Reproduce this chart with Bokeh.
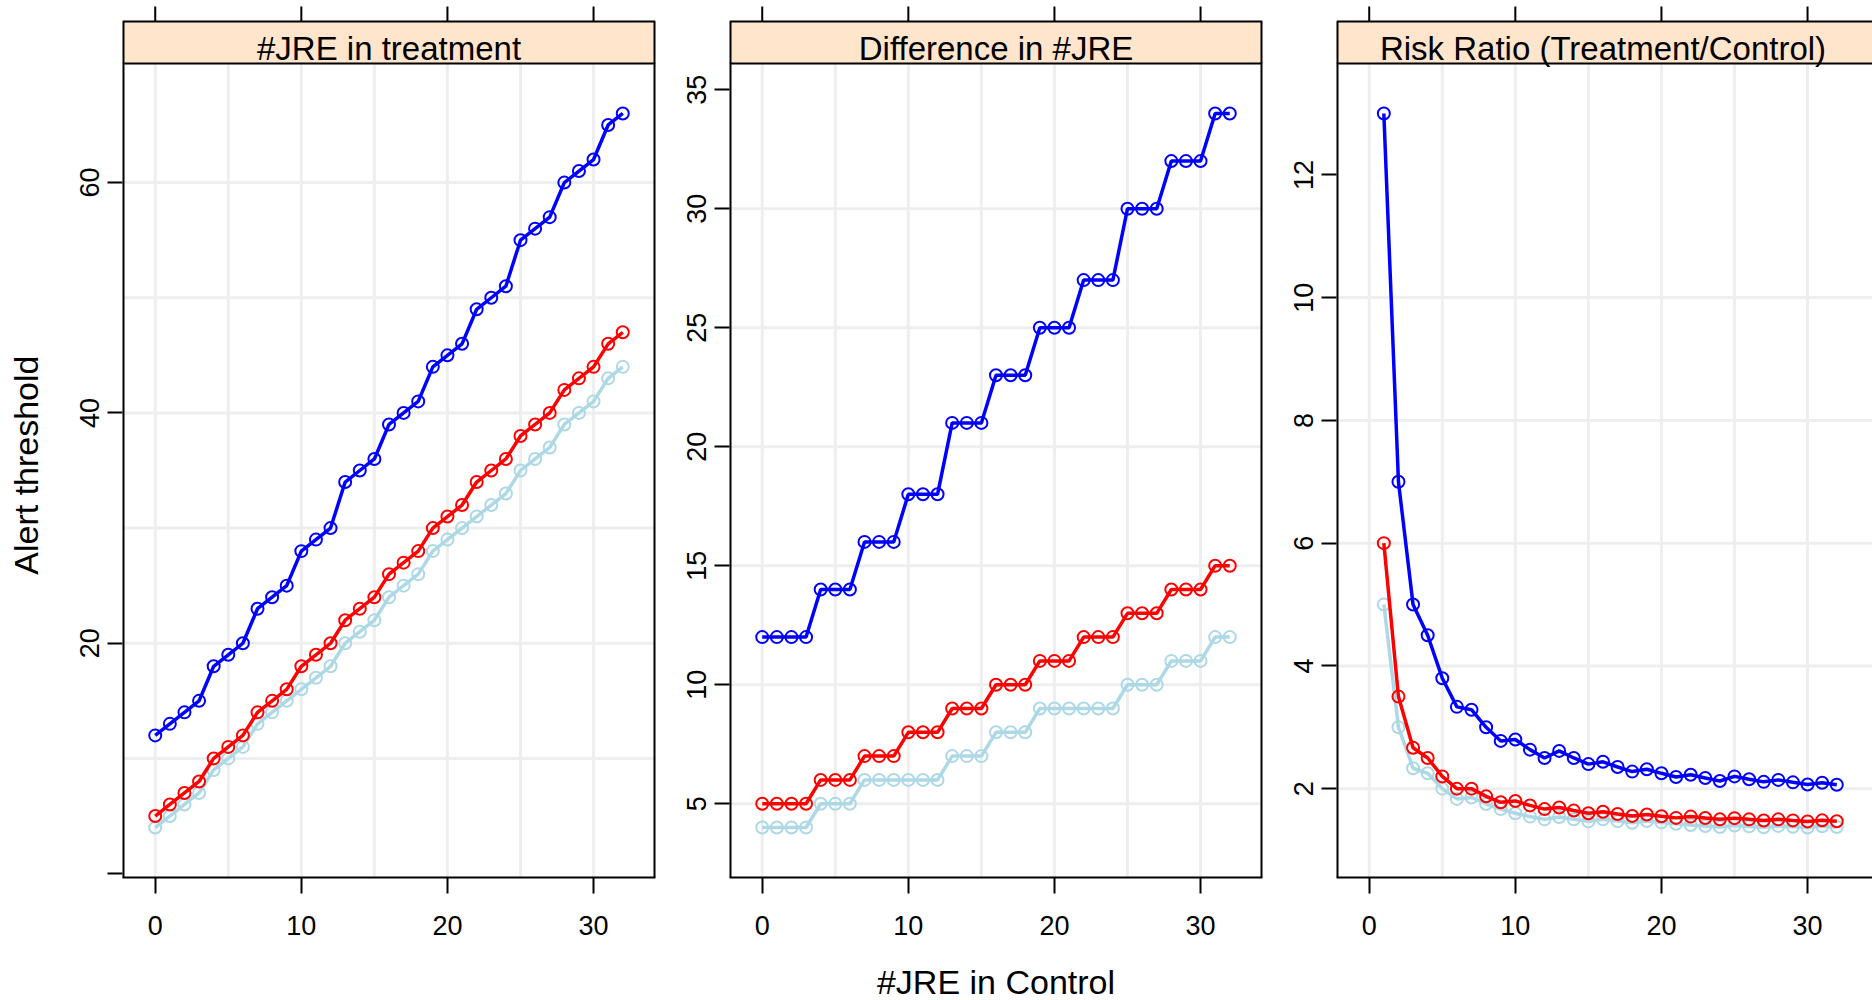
import math
from bokeh.plotting import figure
from bokeh.layouts import row, column
from bokeh.models import Range1d, FixedTicker, LinearAxis
from bokeh.embed import file_html
from bokeh.resources import INLINE
from bokeh.core.properties import value

# ---- data -------------------------------------------------------------
# number of JRE observed in the control arm
control_jre = [0, 1, 2, 3, 4, 5, 6, 7, 8, 9, 10, 11, 12, 13, 14, 15, 16,
               17, 18, 19, 20, 21, 22, 23, 24, 25, 26, 27, 28, 29, 30, 31, 32]

# alert threshold expressed as #JRE in the treatment arm
treat_blue = [12, 13, 14, 15, 18, 19, 20, 23, 24, 25, 28, 29, 30, 34, 35, 36, 39,
              40, 41, 44, 45, 46, 49, 50, 51, 55, 56, 57, 60, 61, 62, 65, 66]
treat_red = [5, 6, 7, 8, 10, 11, 12, 14, 15, 16, 18, 19, 20, 22, 23, 24, 26,
             27, 28, 30, 31, 32, 34, 35, 36, 38, 39, 40, 42, 43, 44, 46, 47]
treat_lightblue = [4, 5, 6, 7, 9, 10, 11, 13, 14, 15, 16, 17, 18, 20, 21, 22, 24,
                   25, 26, 28, 29, 30, 31, 32, 33, 35, 36, 37, 39, 40, 41, 43, 44]

# alert threshold expressed as difference in #JRE (treatment - control)
diff_blue = [12, 12, 12, 12, 14, 14, 14, 16, 16, 16, 18, 18, 18, 21, 21, 21, 23,
             23, 23, 25, 25, 25, 27, 27, 27, 30, 30, 30, 32, 32, 32, 34, 34]
diff_red = [5, 5, 5, 5, 6, 6, 6, 7, 7, 7, 8, 8, 8, 9, 9, 9, 10,
            10, 10, 11, 11, 11, 12, 12, 12, 13, 13, 13, 14, 14, 14, 15, 15]
diff_lightblue = [4, 4, 4, 4, 5, 5, 5, 6, 6, 6, 6, 6, 6, 7, 7, 7, 8,
                  8, 8, 9, 9, 9, 9, 9, 9, 10, 10, 10, 11, 11, 11, 12, 12]

# alert threshold expressed as risk ratio (defined from one control JRE on)
ratio_x = [1, 2, 3, 4, 5, 6, 7, 8, 9, 10, 11, 12, 13, 14, 15, 16,
           17, 18, 19, 20, 21, 22, 23, 24, 25, 26, 27, 28, 29, 30, 31, 32]
ratio_blue = [13.0, 7.0, 5.0, 4.5, 3.8, 3.333, 3.286, 3.0, 2.778, 2.8, 2.636, 2.5,
              2.615, 2.5, 2.4, 2.438, 2.353, 2.278, 2.316, 2.25, 2.19, 2.227,
              2.174, 2.125, 2.2, 2.154, 2.111, 2.143, 2.103, 2.067, 2.097, 2.063]
ratio_red = [6.0, 3.5, 2.667, 2.5, 2.2, 2.0, 2.0, 1.875, 1.778, 1.8, 1.727, 1.667,
             1.692, 1.643, 1.6, 1.625, 1.588, 1.556, 1.579, 1.55, 1.524, 1.545,
             1.522, 1.5, 1.52, 1.5, 1.481, 1.5, 1.483, 1.467, 1.484, 1.469]
ratio_lightblue = [5.0, 3.0, 2.333, 2.25, 2.0, 1.833, 1.857, 1.75, 1.667, 1.6, 1.545,
                   1.5, 1.538, 1.5, 1.467, 1.5, 1.471, 1.444, 1.474, 1.45, 1.429,
                   1.409, 1.391, 1.375, 1.4, 1.385, 1.37, 1.393, 1.379, 1.367,
                   1.387, 1.375]

panel_titles = ["#JRE in treatment", "Difference in #JRE",
                "Risk Ratio (Treatment/Control)"]
x_title = "#JRE in Control"
y_title = "Alert threshold"
x_ticks = [0, 10, 20, 30]
x_grid = [0, 5, 10, 15, 20, 25, 30]

# ---- styling / layout ---------------------------------------------------
FONT = "Liberation Sans"
STRIP_BG = "#FFE5CC"
GRID_COLOR = "#EEEEEE"
BLUE, RED, LIGHTBLUE = "#0000FF", "#FF0000", "#ADD8E6"

PAGE_W, PAGE_H = 1872, 1000
YLAB_W = 50               # column holding the shared y title
XLAB_H = 43               # row holding the shared x title
FRAME_W = 533
DATA_H = 814              # plotting region of a panel
STRIP_H = 42              # panel strip
TICK_H = 15               # tick marks above the strip
FRAME_H = 877             # tick area + strip + plotting region
PANEL_BOTTOM = 80
PANEL_H = PAGE_H - XLAB_H

LEFTS = [72, 72, 72]
RIGHTS = [2, 2, 0]
FRAME_WS = [FRAME_W, FRAME_W,
            PAGE_W - YLAB_W - 2 * (72 + FRAME_W + 2) - 72]

# anchor of free text, in px from the line it is placed against
STRIP_TEXT_Y = 15.5
XTITLE_TEXT_Y = 18.3
YTITLE_X = 25
YTITLE_SHIFT = 37


def padded(vals, frac=0.07):
    lo, hi = min(vals), max(vals)
    d = (hi - lo) * frac
    return lo - d, hi + d


x_lo, x_hi = padded(control_jre)
PX = FRAME_W / (x_hi - x_lo)      # pixels per x unit


def bare_figure(width, height, x_range, y_range, left=0, right=0, top=0, bottom=0):
    p = figure(width=width, height=height, x_range=x_range, y_range=y_range,
               x_axis_location=None, y_axis_location=None,
               output_backend="svg", toolbar_location=None,
               min_border_left=left, min_border_right=right,
               min_border_top=top, min_border_bottom=bottom)
    p.xgrid.grid_line_color = None
    p.ygrid.grid_line_color = None
    p.outline_line_color = None
    p.background_fill_color = "white"
    p.border_fill_color = "white"
    return p


def style_axis(ax, tick_out):
    ax.axis_line_color = "black"
    ax.axis_line_width = 2
    ax.major_tick_line_color = "black"
    ax.major_tick_line_width = 2
    ax.major_tick_in = 0
    ax.major_tick_out = tick_out
    ax.minor_tick_line_color = None
    ax.major_label_text_font = FONT
    ax.major_label_text_font_size = "27px"
    ax.major_label_text_color = "black"


def make_panel(i, series, y_ticks, y_grid, hide_zero=False):
    left, right, fw = LEFTS[i], RIGHTS[i], FRAME_WS[i]
    x_end = x_lo + fw / PX
    all_y = [v for _, ys, _ in series for v in ys]
    y_lo, y_hi = padded(all_y)
    upy = (y_hi - y_lo) / DATA_H          # y units per pixel
    strip_top = y_hi + STRIP_H * upy
    tick_top = strip_top + TICK_H * upy
    y_end = y_lo + FRAME_H * upy
    box_right = x_end if right else x_end + 5

    p = bare_figure(left + fw + right, PANEL_H,
                    Range1d(x_lo, x_end), Range1d(y_lo, y_end),
                    left=left, right=right, top=0, bottom=PANEL_BOTTOM)

    # reference grid
    p.segment(x0=x_grid, y0=[y_lo] * len(x_grid), x1=x_grid, y1=[y_hi] * len(x_grid),
              line_color=GRID_COLOR, line_width=3, level="underlay")
    p.segment(x0=[x_lo] * len(y_grid), y0=y_grid, x1=[x_end] * len(y_grid), y1=y_grid,
              line_color=GRID_COLOR, line_width=3, level="underlay")

    # series: line plus open circles
    for sx, ys, color in series:
        p.line(sx, ys, line_color=color, line_width=3.5)
        p.scatter(sx, ys, marker="circle", size=12, fill_color=None,
                  line_color=color, line_width=2)

    # strip with the panel title, and the panel border
    p.quad(left=[x_lo], right=[box_right], bottom=[y_hi], top=[strip_top],
           fill_color=STRIP_BG, line_color=None)
    p.segment(x0=[x_lo, x_lo], y0=[y_hi, strip_top],
              x1=[box_right, box_right], y1=[y_hi, strip_top],
              line_color="black", line_width=2)
    edges = [x_lo, x_end] if right else [x_lo]
    p.segment(x0=edges, y0=[y_lo] * len(edges), x1=edges, y1=[strip_top] * len(edges),
              line_color="black", line_width=4)
    p.segment(x0=x_ticks, y0=[strip_top] * len(x_ticks),
              x1=x_ticks, y1=[tick_top] * len(x_ticks),
              line_color="black", line_width=2)
    p.text(x=[(x_lo + x_hi) / 2], y=[y_hi + STRIP_TEXT_Y * upy], text=[panel_titles[i]],
           text_align="center", text_baseline="alphabetic",
           text_font=value(FONT), text_font_size="33px", text_color="black")

    below = LinearAxis(ticker=FixedTicker(ticks=x_ticks))
    style_axis(below, 16)
    below.major_label_standoff = 22
    p.add_layout(below, "below")

    yax = LinearAxis(ticker=FixedTicker(ticks=y_ticks))
    style_axis(yax, 15)
    yax.axis_line_color = None
    yax.major_label_orientation = "vertical"
    yax.major_label_standoff = 8
    if hide_zero:
        yax.major_label_overrides = {0: ""}
    p.add_layout(yax, "left")
    return p


p1 = make_panel(0, [(control_jre, treat_lightblue, LIGHTBLUE),
                    (control_jre, treat_red, RED),
                    (control_jre, treat_blue, BLUE)],
                [0, 20, 40, 60], [10, 20, 30, 40, 50, 60], hide_zero=True)
p2 = make_panel(1, [(control_jre, diff_lightblue, LIGHTBLUE),
                    (control_jre, diff_red, RED),
                    (control_jre, diff_blue, BLUE)],
                [5, 10, 15, 20, 25, 30, 35], [5, 10, 15, 20, 25, 30])
p3 = make_panel(2, [(ratio_x, ratio_lightblue, LIGHTBLUE),
                    (ratio_x, ratio_red, RED),
                    (ratio_x, ratio_blue, BLUE)],
                [2, 4, 6, 8, 10, 12], [2, 4, 6, 8, 10])

# shared y title, centred on the plotting regions
ylab_fig = bare_figure(YLAB_W, PANEL_H, Range1d(0, YLAB_W), Range1d(0, PANEL_H))
data_mid = PANEL_H - (FRAME_H - DATA_H / 2)
ylab_fig.text(x=[YTITLE_X], y=[data_mid - YTITLE_SHIFT], text=[y_title],
              angle=math.pi / 2, text_align="center", text_baseline="alphabetic",
              text_font=value(FONT), text_font_size="34px", text_color="black")

# shared x title, centred under the middle panel
xlab_fig = bare_figure(PAGE_W, XLAB_H, Range1d(0, PAGE_W), Range1d(0, XLAB_H))
mid_center = YLAB_W + LEFTS[0] + FRAME_W + RIGHTS[0] + LEFTS[1] + FRAME_W / 2
xlab_fig.text(x=[mid_center], y=[XTITLE_TEXT_Y], text=[x_title],
              text_align="center", text_baseline="alphabetic",
              text_font=value(FONT), text_font_size="34px", text_color="black")

layout = column(row(ylab_fig, p1, p2, p3, spacing=0), xlab_fig, spacing=0)
open("out.html", "w").write(file_html(layout, INLINE))
